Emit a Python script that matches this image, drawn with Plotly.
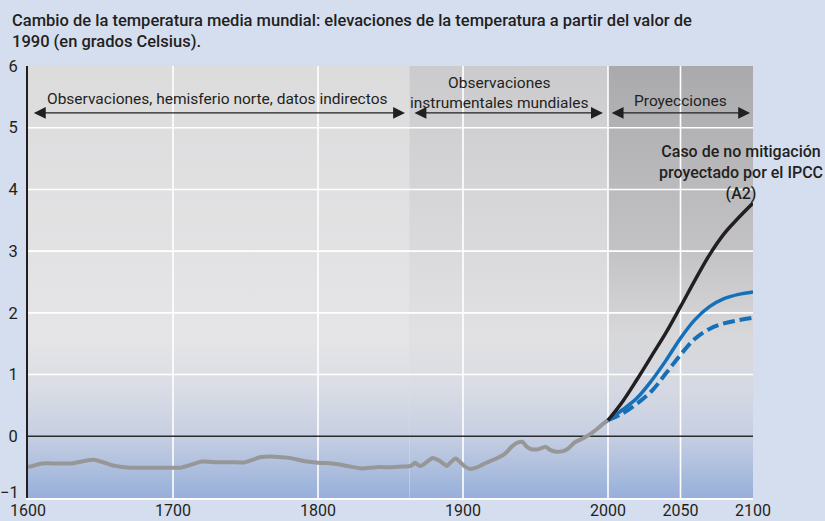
import base64
import plotly.graph_objects as go

# ---- data -------------------------------------------------------------
hist_years = [1600, 1610, 1620, 1630, 1645, 1660, 1670, 1680, 1690, 1700,
              1705, 1710, 1720, 1730, 1740, 1750, 1760, 1770, 1780, 1790,
              1800, 1810, 1820, 1830, 1840, 1850, 1860, 1864, 1867, 1870,
              1872, 1876, 1879, 1884, 1889, 1892, 1895, 1899, 1902, 1905,
              1910, 1915, 1923, 1929, 1934, 1938, 1941, 1944, 1947, 1952,
              1957, 1960, 1964, 1969, 1973, 1977, 1983, 1988, 1992, 1997, 2000]
hist_temp = [-0.50, -0.44, -0.44, -0.44, -0.38, -0.48, -0.51, -0.51, -0.51, -0.51,
             -0.51, -0.48, -0.41, -0.42, -0.42, -0.42, -0.34, -0.33, -0.35, -0.40,
             -0.43, -0.44, -0.48, -0.52, -0.50, -0.50, -0.49, -0.48, -0.43, -0.48,
             -0.47, -0.40, -0.35, -0.40, -0.48, -0.41, -0.36, -0.44, -0.50, -0.53,
             -0.50, -0.44, -0.36, -0.28, -0.16, -0.10, -0.09, -0.17, -0.21, -0.21,
             -0.17, -0.22, -0.25, -0.24, -0.19, -0.10, -0.03, 0.04, 0.11, 0.21, 0.26]

proj_years = [2000, 2010, 2020, 2030, 2040, 2050, 2060, 2070, 2080, 2090, 2100]
a2_temp = [0.26, 0.56, 0.92, 1.30, 1.68, 2.10, 2.53, 2.94, 3.28, 3.54, 3.78]
ppm550_temp = [0.26, 0.43, 0.62, 0.90, 1.23, 1.59, 1.89, 2.10, 2.23, 2.30, 2.34]
ppm450_temp = [0.26, 0.37, 0.53, 0.73, 1.02, 1.32, 1.58, 1.74, 1.83, 1.88, 1.92]

x_ticks = [1600, 1700, 1800, 1900, 2000, 2050, 2100]
y_ticks = [0, 1, 2, 3, 4, 5, 6]
y_bottom_label = "\u22121"
x_grid = [1700, 1800, 1900, 2000, 2050]
y_grid = [1, 2, 3, 4, 5]

# period bands: proxy records, instrumental records, projections
period_edges = [1600, 1863, 2000, 2100]
period_labels = ["Observaciones, hemisferio norte, datos indirectos",
                 "Observaciones<br>instrumentales mundiales",
                 "Proyecciones"]

Y_MIN, Y_MAX = -1, 6

# ---- styling ----------------------------------------------------------
FONT = "Roboto, Liberation Sans, sans-serif"
INK = "#231f20"
PAGE_BG = "#d5deef"

# vertical gradients (stop value in data units, colour) for each band
band_gradients = [
    [(6, "#dcdcdd"), (1.6, "#e5e5e7"), (0.8, "#dadde5"), (0, "#c6cfe2"), (-1, "#97afda")],
    [(6, "#cbcbcd"), (1.6, "#e1e1e3"), (0.8, "#d9dce4"), (0, "#c6cfe2"), (-1, "#97afda")],
    [(6, "#aaaaac"), (3, "#c3c3c5"), (1.6, "#d8d8da"), (0.8, "#d6d9e2"), (0, "#c6cfe2"), (-1, "#97afda")],
]


def gradient_svg(stops):
    parts = []
    for val, col in stops:
        off = (Y_MAX - val) / (Y_MAX - Y_MIN)
        parts.append(f'<stop offset="{off:.4f}" stop-color="{col}"/>')
    svg = ('<svg xmlns="http://www.w3.org/2000/svg" width="10" height="700" '
           'viewBox="0 0 10 700" preserveAspectRatio="none">'
           '<defs><linearGradient id="g" x1="0" y1="0" x2="0" y2="1">'
           + "".join(parts) +
           '</linearGradient></defs>'
           '<rect x="0" y="0" width="10" height="700" fill="url(#g)"/></svg>')
    return "data:image/svg+xml;base64," + base64.b64encode(svg.encode()).decode()


images = []
for i, stops in enumerate(band_gradients):
    x0, x1 = period_edges[i], period_edges[i + 1]
    images.append(dict(source=gradient_svg(stops), xref="x", yref="y",
                       x=x0, y=Y_MAX, sizex=x1 - x0, sizey=Y_MAX - Y_MIN,
                       xanchor="left", yanchor="top", sizing="stretch",
                       layer="below"))

fig = go.Figure()

fig.add_trace(go.Scatter(x=hist_years, y=hist_temp, mode="lines",
                         line=dict(color="#979797", width=4, shape="spline",
                                   smoothing=0.6),
                         hoverinfo="skip", showlegend=False))
fig.add_trace(go.Scatter(x=proj_years, y=ppm450_temp, mode="lines",
                         line=dict(color="#1670b8", width=4, dash="12px,5px",
                                   shape="spline", smoothing=1.0),
                         showlegend=False))
fig.add_trace(go.Scatter(x=proj_years, y=ppm550_temp, mode="lines",
                         line=dict(color="#1670b8", width=3.5, shape="spline",
                                   smoothing=1.0),
                         showlegend=False))
fig.add_trace(go.Scatter(x=proj_years, y=a2_temp, mode="lines",
                         line=dict(color=INK, width=3.5, shape="spline",
                                   smoothing=1.0),
                         showlegend=False))

annotations = []

# chart heading, above the plot area
annotations.append(dict(
    text="Cambio de la temperatura media mundial: elevaciones de la temperatura a partir del valor de<br>1990 (en grados Celsius).",
    xref="paper", yref="paper", x=-18 / 725, y=1 + 57 / 432,
    xanchor="left", yanchor="top", align="left", showarrow=False,
    font=dict(family=FONT, size=16.5, color=INK, weight=500)))

# lowest y tick label, lifted clear of the year labels
annotations.append(dict(text=y_bottom_label, xref="paper", yref="y",
                        x=-7 / 725, y=Y_MIN, xanchor="right", yanchor="middle",
                        yshift=6, showarrow=False,
                        font=dict(family=FONT, size=16.5, color=INK)))

# double-headed arrows marking each period, with their captions
ARROW_Y = 5.24
arrow_pad = [(3, 3), (2.5, 3.5), (1.5, 2)]
label_pos = [(1730.3, 5.47), (1925.5, 5.57), (2049.7, 5.44)]
for i, txt in enumerate(period_labels):
    x0 = period_edges[i] + arrow_pad[i][0]
    x1 = period_edges[i + 1] - arrow_pad[i][1]
    annotations.append(dict(x=x1, y=ARROW_Y, ax=x0, ay=ARROW_Y, xref="x", yref="y",
                            axref="x", ayref="y", text="", showarrow=True,
                            arrowhead=2, arrowside="end+start", arrowsize=1.7,
                            arrowwidth=1.4, arrowcolor=INK, startarrowhead=2,
                            startarrowsize=1.7))
    lx, ly = label_pos[i]
    annotations.append(dict(x=lx, y=ly, xref="x", yref="y", text=txt,
                            showarrow=False, align="center",
                            font=dict(family=FONT, size=15.5, color=INK)))

# scenario labels
series_labels = [
    ("Caso de no mitigación<br>proyectado por el IPCC<br>(A2)", 2091.7, 4.27),
    ("Estabilización<br>en 550 ppm", 2110.3, 2.71),
    ("Estabilización<br>en 450 ppm", 2110.3, 1.33),
]
for txt, lx, ly in series_labels:
    annotations.append(dict(x=lx, y=ly, xref="x", yref="y", text=txt,
                            showarrow=False, align="center",
                            font=dict(family=FONT, size=16, color=INK, weight=500)))

# white grid lines drawn above the gradient bands but below the data
shapes = []
for gx in x_grid:
    shapes.append(dict(type="line", xref="x", yref="y", x0=gx, x1=gx,
                       y0=Y_MIN, y1=Y_MAX, line=dict(color="white", width=1.6),
                       layer="between"))
for gy in y_grid:
    shapes.append(dict(type="line", xref="x", yref="y", x0=period_edges[0],
                       x1=period_edges[-1], y0=gy, y1=gy,
                       line=dict(color="white", width=1.6), layer="between"))
shapes.append(dict(type="line", xref="x", yref="y", x0=period_edges[0],
                   x1=period_edges[-1], y0=0, y1=0,
                   line=dict(color="#2b2b2e", width=1.5), layer="between"))

fig.update_layout(
    width=825, height=521,
    margin=dict(l=28, r=72, t=66, b=23, pad=0),
    paper_bgcolor=PAGE_BG, plot_bgcolor=PAGE_BG,
    font=dict(family=FONT, size=16, color=INK),
    images=images, shapes=shapes, annotations=annotations,
    xaxis=dict(range=[period_edges[0], period_edges[-1]], tickvals=x_ticks,
               showgrid=False, zeroline=False, showline=True, linecolor="white",
               linewidth=2, ticks="", ticklabelstandoff=-3, automargin=False,
               tickfont=dict(size=16)),
    yaxis=dict(range=[Y_MIN, Y_MAX], tickvals=y_ticks, showgrid=False,
               zeroline=False, showline=True, linecolor=INK, linewidth=2,
               ticks="", ticklabelstandoff=5, automargin=False,
               tickfont=dict(size=16.5)),
)

fig.write_html("out.html")
